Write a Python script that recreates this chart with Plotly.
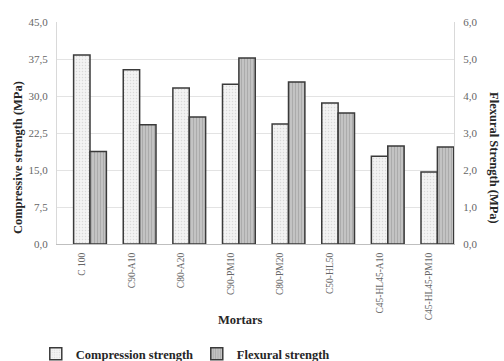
import plotly.graph_objects as go

categories = ["C 100", "C90-A10", "C80-A20", "C90-PM10", "C80-PM20", "C50-HL50",
              "C45-HL45-A10", "C45-HL45-PM10"]
compression = [38.3, 35.3, 31.6, 32.4, 24.3, 28.6, 17.8, 14.6]
flexural = [2.50, 3.22, 3.43, 5.03, 4.38, 3.54, 2.65, 2.62]
left_ticks = [0, 7.5, 15, 22.5, 30, 37.5, 45]
left_labels = ["0,0", "7,5", "15,0", "22,5", "30,0", "37,5", "45,0"]
right_ticks = [0, 1, 2, 3, 4, 5, 6]
right_labels = ["0,0", "1,0", "2,0", "3,0", "4,0", "5,0", "6,0"]

FONT = "Liberation Serif"
BAR_W = 0.33

fig = go.Figure()
fig.add_trace(go.Bar(
    x=categories, y=compression, name="Compression strength",
    yaxis="y", width=BAR_W, offset=-BAR_W / 2,
    marker=dict(color="#f2f2f2", line=dict(color="#3a3a3a", width=1.5),
                pattern=dict(shape=".", fgcolor="#c0c0c0", bgcolor="#f3f3f3",
                             size=3, solidity=0.2)),
))
fig.add_trace(go.Bar(
    x=categories, y=flexural, name="Flexural strength",
    yaxis="y2", width=BAR_W, offset=BAR_W / 2,
    marker=dict(color="#b5b5b5", line=dict(color="#3a3a3a", width=1.5),
                pattern=dict(shape="|", fgcolor="#8f8f8f", bgcolor="#c6c6c6",
                             size=3, solidity=0.4)),
))

fig.update_layout(
    width=504, height=361,
    margin=dict(l=57, r=50, t=22, b=117, autoexpand=False),
    paper_bgcolor="white", plot_bgcolor="white",
    barmode="overlay",
    font=dict(family=FONT, color="#595959", size=11),
    showlegend=True,
    legend=dict(orientation="h", xref="container", yref="container",
                x=0.071, xanchor="left", y=0.019, yanchor="middle",
                font=dict(family=FONT, size=12.5, color="#262626", weight="bold"),
                itemwidth=30, entrywidth=116, traceorder="normal"),
    xaxis=dict(
        range=[-0.5, 7.5], automargin=False,
        tickangle=-90, tickfont=dict(size=9.5, color="#666666"),
        showline=True, linecolor="#bfbfbf", linewidth=1, ticks="",
        ticklabelstandoff=4,
    ),
    yaxis=dict(
        range=[0, 45], tickvals=left_ticks, ticktext=left_labels, automargin=False,
        showgrid=True, gridcolor="#e3e3e3", gridwidth=1,
        showline=True, linecolor="#d9d9d9", zeroline=False,
        tickfont=dict(size=11, color="#666666"), ticks="",
        ticklabelstandoff=6,
    ),
    yaxis2=dict(
        range=[0, 6], tickvals=right_ticks, ticktext=right_labels, automargin=False,
        overlaying="y", side="right", showgrid=False,
        showline=True, linecolor="#d9d9d9", zeroline=False,
        tickfont=dict(size=11, color="#666666"), ticks="",
        ticklabelstandoff=6,
    ),
    annotations=[
        dict(text="<b>Compressive strength (MPa)</b>", textangle=-90,
             xref="paper", yref="paper", x=0, xshift=-39, y=0.387, yanchor="middle",
             xanchor="center", showarrow=False,
             font=dict(family=FONT, size=12.5, color="#262626")),
        dict(text="<b>Flexural Strength (MPa)</b>", textangle=90,
             xref="paper", yref="paper", x=1.0, xshift=40, y=0.387, yanchor="middle",
             xanchor="center", showarrow=False,
             font=dict(family=FONT, size=12.5, color="#262626")),
        dict(text="<b>Mortars</b>",
             xref="paper", yref="paper", x=0.461, y=-0.342, yanchor="middle",
             xanchor="center", showarrow=False,
             font=dict(family=FONT, size=12.5, color="#262626")),
    ],
)

fig.write_html("out.html", config={"displayModeBar": False},
               post_script="document.body.style.margin='0px';document.body.style.padding='0px';")
